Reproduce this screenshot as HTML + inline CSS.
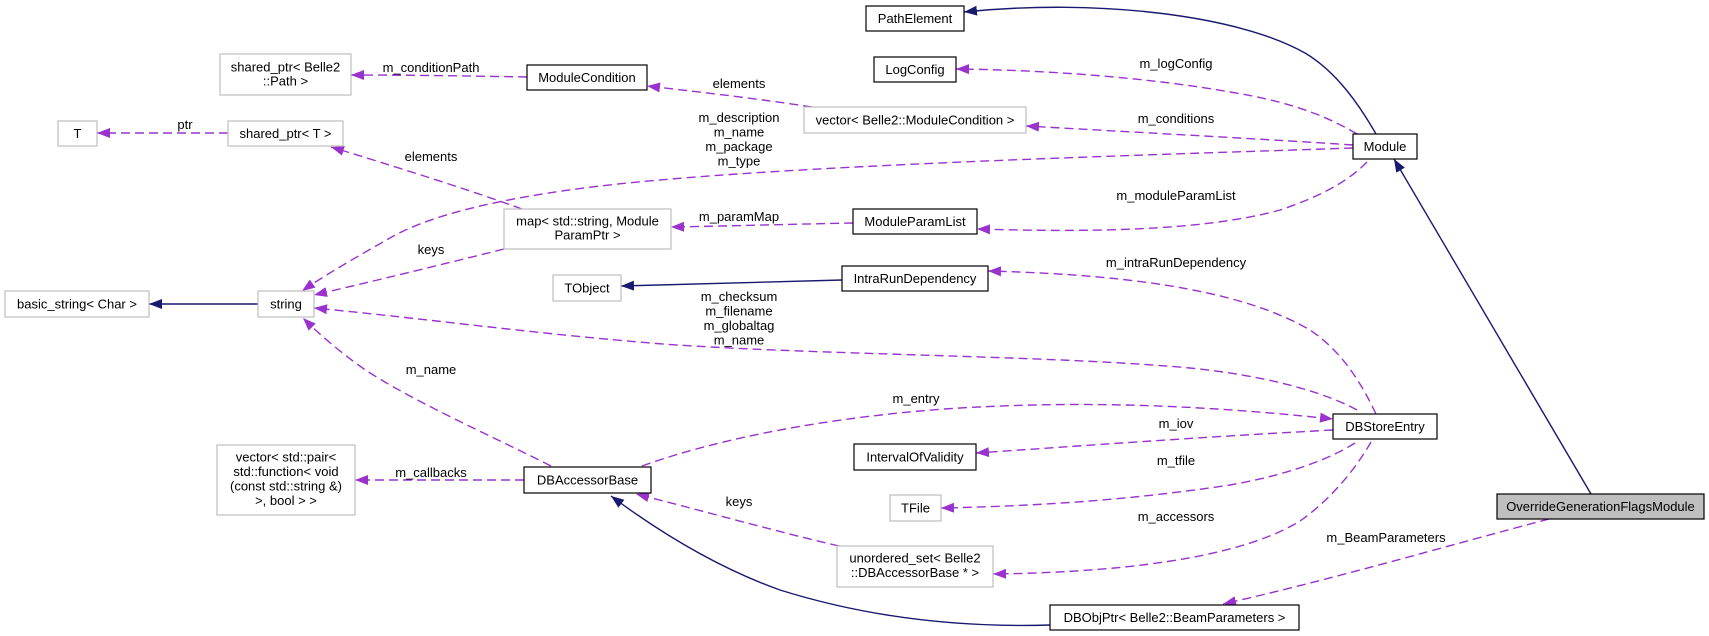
<!DOCTYPE html>
<html><head><meta charset="utf-8"><style>
html,body{margin:0;padding:0;background:#fff;}
svg{display:block;}
text{font-family:"Liberation Sans",Arial,sans-serif;font-size:13px;fill:#000;}
</style></head><body>
<svg width="1709" height="636" viewBox="0 0 1709 636" xmlns="http://www.w3.org/2000/svg">
<defs>
<marker id="ap" viewBox="0 0 13 10" refX="13" refY="5" markerWidth="13" markerHeight="10" markerUnits="userSpaceOnUse" orient="auto"><path d="M0,0 L13,5 L0,10 z" fill="#9a32cd"/></marker>
<marker id="an" viewBox="0 0 13 10" refX="13" refY="5" markerWidth="13" markerHeight="10" markerUnits="userSpaceOnUse" orient="auto"><path d="M0,0 L13,5 L0,10 z" fill="#191970"/></marker>
</defs>
<rect width="1709" height="636" fill="#fff"/>

<g fill="none" stroke="#9a32cd" stroke-width="1.4" stroke-dasharray="9,5" marker-end="url(#ap)">
<path d="M1357,134 C1320,112 1280,100 1230,92 C1150,78 1050,70 956,69"/>
<path d="M1353,145 C1280,140 1150,133 1026,126"/>
<path d="M1353,148 C1150,155 780,165 600,186 C500,198 430,215 390,238 C360,255 325,275 302,291"/>
<path d="M1367,162 C1345,185 1310,200 1280,210 C1200,232 1080,232 977,229"/>
<path d="M527,77 C470,76 410,75 351,75"/>
<path d="M812,107 C760,99 700,92 647,86"/>
<path d="M228,133 L97,133"/>
<path d="M522,209 C470,190 390,165 331,147"/>
<path d="M504,249 C440,265 370,282 314,295"/>
<path d="M853,223 C800,224 730,226 671,227"/>
<path d="M1376,414 C1360,380 1340,350 1310,330 C1250,295 1150,275 988,271"/>
<path d="M1357,410 C1320,390 1260,375 1190,368 C1050,355 800,355 650,343 C520,332 420,318 314,308"/>
<path d="M551,466 C500,440 410,400 364,369 C340,352 320,335 303,318"/>
<path d="M524,480 L355,480"/>
<path d="M642,466 C700,445 800,420 944,409 C1080,400 1200,405 1333,419"/>
<path d="M1333,430 C1200,437 1080,446 976,453"/>
<path d="M1355,443 C1320,465 1270,478 1230,485 C1130,500 1040,506 941,508"/>
<path d="M1371,442 C1355,470 1330,500 1300,521 C1250,552 1150,572 993,574"/>
<path d="M839,546 C770,530 700,510 636,494"/>
<path d="M1549,519 C1450,545 1330,580 1223,604"/>
</g>

<g fill="none" stroke="#191970" stroke-width="1.4" marker-end="url(#an)">
<path d="M1376,134 C1360,106 1337,72 1305,53 C1240,16 1100,-2 964,12"/>
<path d="M842,280 C760,282 690,284 621,286"/>
<path d="M258,304 L149,304"/>
<path d="M1050,625 C950,628 860,615 780,590 C710,565 650,525 611,496"/>
<path d="M1591,494 L1394,159"/>
</g>

<!-- nodes gray border -->
<g fill="#fff" stroke="#bfbfbf" stroke-width="1.2">
<rect x="220" y="54" width="131" height="41"/>
<rect x="58" y="121" width="39" height="25"/>
<rect x="228" y="121" width="115" height="25"/>
<rect x="804" y="107" width="222" height="26"/>
<rect x="504" y="209" width="167" height="40"/>
<rect x="553" y="275" width="68" height="26"/>
<rect x="5" y="291" width="144" height="26"/>
<rect x="258" y="291" width="56" height="26"/>
<rect x="217" y="445" width="138" height="70"/>
<rect x="890" y="495" width="51" height="26"/>
<rect x="837" y="546" width="156" height="41"/>
</g>
<!-- nodes black border -->
<g fill="#fff" stroke="#000" stroke-width="1.2">
<rect x="866" y="6" width="98" height="25"/>
<rect x="874" y="57" width="82" height="25"/>
<rect x="527" y="65" width="120" height="25"/>
<rect x="1353" y="134" width="64" height="25"/>
<rect x="853" y="209" width="124" height="25"/>
<rect x="842" y="266" width="146" height="25"/>
<rect x="1333" y="414" width="104" height="25"/>
<rect x="854" y="444" width="122" height="26"/>
<rect x="524" y="467" width="127" height="26"/>
<rect x="1050" y="605" width="249" height="25"/>
<rect x="1497" y="494" width="207" height="25" fill="#bfbfbf"/>
</g>

<g text-anchor="middle">
<!-- node labels -->
<text x="285.5" y="71.5">shared_ptr&lt; Belle2</text>
<text x="285.5" y="85.5">::Path &gt;</text>
<text x="77.5" y="138">T</text>
<text x="285.5" y="138">shared_ptr&lt; T &gt;</text>
<text x="915" y="124.5">vector&lt; Belle2::ModuleCondition &gt;</text>
<text x="587.5" y="225.5">map&lt; std::string, Module</text>
<text x="587.5" y="239.5">ParamPtr &gt;</text>
<text x="587" y="292.5">TObject</text>
<text x="77" y="308.5">basic_string&lt; Char &gt;</text>
<text x="286" y="308.5">string</text>
<text x="286" y="461.5">vector&lt; std::pair&lt;</text>
<text x="286" y="476">std::function&lt; void</text>
<text x="286" y="490.5">(const std::string &amp;)</text>
<text x="286" y="505">&gt;, bool &gt; &gt;</text>
<text x="915.5" y="512.5">TFile</text>
<text x="915" y="562.5">unordered_set&lt; Belle2</text>
<text x="915" y="577">::DBAccessorBase * &gt;</text>

<text x="915" y="23">PathElement</text>
<text x="915" y="74">LogConfig</text>
<text x="587" y="82">ModuleCondition</text>
<text x="1385" y="151">Module</text>
<text x="915" y="226">ModuleParamList</text>
<text x="915" y="283">IntraRunDependency</text>
<text x="1385" y="431">DBStoreEntry</text>
<text x="915" y="461.5">IntervalOfValidity</text>
<text x="587.5" y="484.5">DBAccessorBase</text>
<text x="1174.5" y="622">DBObjPtr&lt; Belle2::BeamParameters &gt;</text>
<text x="1600.5" y="511">OverrideGenerationFlagsModule</text>

<!-- edge labels -->
<text x="431" y="72">m_conditionPath</text>
<text x="185" y="129">ptr</text>
<text x="739" y="88">elements</text>
<text x="431" y="161">elements</text>
<text x="739" y="122">m_description</text>
<text x="739" y="136.5">m_name</text>
<text x="739" y="151">m_package</text>
<text x="739" y="165.5">m_type</text>
<text x="431" y="254">keys</text>
<text x="739" y="221">m_paramMap</text>
<text x="1176" y="68">m_logConfig</text>
<text x="1176" y="123">m_conditions</text>
<text x="1176" y="200">m_moduleParamList</text>
<text x="1176" y="267">m_intraRunDependency</text>
<text x="739" y="301">m_checksum</text>
<text x="739" y="315.5">m_filename</text>
<text x="739" y="330">m_globaltag</text>
<text x="739" y="344.5">m_name</text>
<text x="431" y="374">m_name</text>
<text x="431" y="477">m_callbacks</text>
<text x="916" y="403">m_entry</text>
<text x="1176" y="428">m_iov</text>
<text x="1176" y="465">m_tfile</text>
<text x="1176" y="521">m_accessors</text>
<text x="739" y="506">keys</text>
<text x="1386" y="542">m_BeamParameters</text>
</g>
</svg>
</body></html>
